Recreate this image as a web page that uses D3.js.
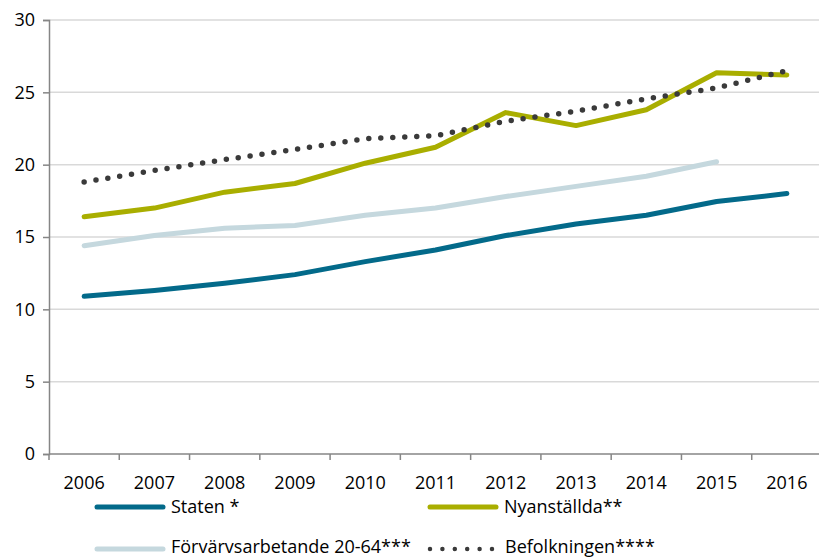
<!DOCTYPE html>
<html>
<head>
<meta charset="utf-8">
<script src="https://cdn.jsdelivr.net/npm/d3@7"></script>
<style>
  html, body { margin: 0; padding: 0; background: #fff; overflow: hidden; }
  svg { display: block; }
  text { font-family: "Open Sans", "Noto Sans", sans-serif; fill: #000; }
</style>
</head>
<body>
<svg width="819" height="559"></svg>
<script>
const years = ["2006","2007","2008","2009","2010","2011","2012","2013","2014","2015","2016"];
const staten = [10.9, 11.3, 11.8, 12.4, 13.3, 14.1, 15.1, 15.9, 16.5, 17.45, 18.0];
const nyanstallda = [16.4, 17.0, 18.1, 18.7, 20.1, 21.2, 23.6, 22.7, 23.8, 26.35, 26.2];
const forvarvs = [14.4, 15.1, 15.6, 15.8, 16.5, 17.0, 17.8, 18.5, 19.2, 20.2];
const befolkningen = [18.8, 19.6, 20.35, 21.05, 21.8, 22.0, 23.0, 23.7, 24.55, 25.3, 26.5];
const yTicks = [0, 5, 10, 15, 20, 25, 30];

const svg = d3.select("svg");

const margin = { left: 49, top: 20, right: 0, bottom: 105 };
const width = +svg.attr("width");
const height = +svg.attr("height");
const innerWidth = width - margin.left - margin.right;
const innerHeight = height - margin.top - margin.bottom;

const g = svg.append("g")
    .attr("transform", `translate(${margin.left}, ${margin.top})`);

// the plot area runs slightly past the right edge of the image
const x = d3.scaleBand()
    .domain(years)
    .range([0, innerWidth + 3]);

const y = d3.scaleLinear()
    .domain([0, 30])
    .range([innerHeight, 0]);

// gridlines
g.selectAll(".grid")
    .data(yTicks.slice(1))
    .enter().append("line")
        .attr("x1", 0)
        .attr("x2", innerWidth)
        .attr("y1", d => y(d))
        .attr("y2", d => y(d))
        .attr("stroke", "#d9d9d9")
        .attr("stroke-width", 1.5);

// y axis
const yAxis = g.append("g")
    .call(d3.axisLeft(y).tickValues(yTicks).tickSize(6).tickPadding(8));
yAxis.selectAll("text").attr("font-size", 18);
yAxis.selectAll("line, path").attr("stroke", "#868686").attr("stroke-width", 1.5);

// x axis
const xTickPos = years.map(d => x(d));
const xAxis = g.append("g")
    .attr("transform", `translate(0, ${innerHeight})`);
xAxis.append("line")
    .attr("x1", 0).attr("x2", innerWidth)
    .attr("stroke", "#868686").attr("stroke-width", 1.5);
xAxis.selectAll(".tick")
    .data(xTickPos)
    .enter().append("line")
        .attr("x1", d => d).attr("x2", d => d)
        .attr("y1", 0).attr("y2", 6)
        .attr("stroke", "#868686").attr("stroke-width", 1.5);
xAxis.selectAll(".lbl")
    .data(years)
    .enter().append("text")
        .attr("x", d => x(d) + x.bandwidth() / 2)
        .attr("y", 35)
        .attr("text-anchor", "middle")
        .attr("font-size", 18)
        .text(d => d);

const line = d3.line()
    .x((d, i) => x(years[i]) + x.bandwidth() / 2)
    .y(d => y(d));

const series = [
    { name: "Staten *", values: staten, color: "#036a8a", dash: null },
    { name: "Nyanställda**", values: nyanstallda, color: "#a9ae00", dash: null },
    { name: "Förvärvsarbetande 20-64***", values: forvarvs, color: "#c5d8de", dash: null },
    { name: "Befolkningen****", values: befolkningen, color: "#3a3a3a", dash: "0 12" }
];

const drawOrder = [2, 0, 1, 3];
drawOrder.forEach(i => {
    const s = series[i];
    g.append("path")
        .attr("d", line(s.values))
        .attr("fill", "none")
        .attr("stroke", s.color)
        .attr("stroke-width", s.dash ? 5.5 : 5)
        .attr("stroke-linecap", "round")
        .attr("stroke-linejoin", "round")
        .attr("stroke-dasharray", s.dash);
});

// legend: line y and text baseline for each entry
const legendPos = [
    { x: 97, y: 507, ty: 513 },
    { x: 430, y: 507, ty: 513 },
    { x: 97, y: 549, ty: 553 },
    { x: 430, y: 549, ty: 553 }
];

series.forEach((s, i) => {
    const p = legendPos[i];
    svg.append("line")
        .attr("x1", p.x).attr("x2", p.x + (s.dash ? 62 : 66))
        .attr("y1", p.y).attr("y2", p.y)
        .attr("stroke", s.color)
        .attr("stroke-width", s.dash ? 4.5 : 5)
        .attr("stroke-linecap", "round")
        .attr("stroke-dasharray", s.dash ? "0 12.4" : null);
    svg.append("text")
        .attr("x", p.x + (s.dash ? 75 : 74))
        .attr("y", p.ty)
        .attr("font-size", 18)
        .text(s.name);
});
</script>
</body>
</html>
